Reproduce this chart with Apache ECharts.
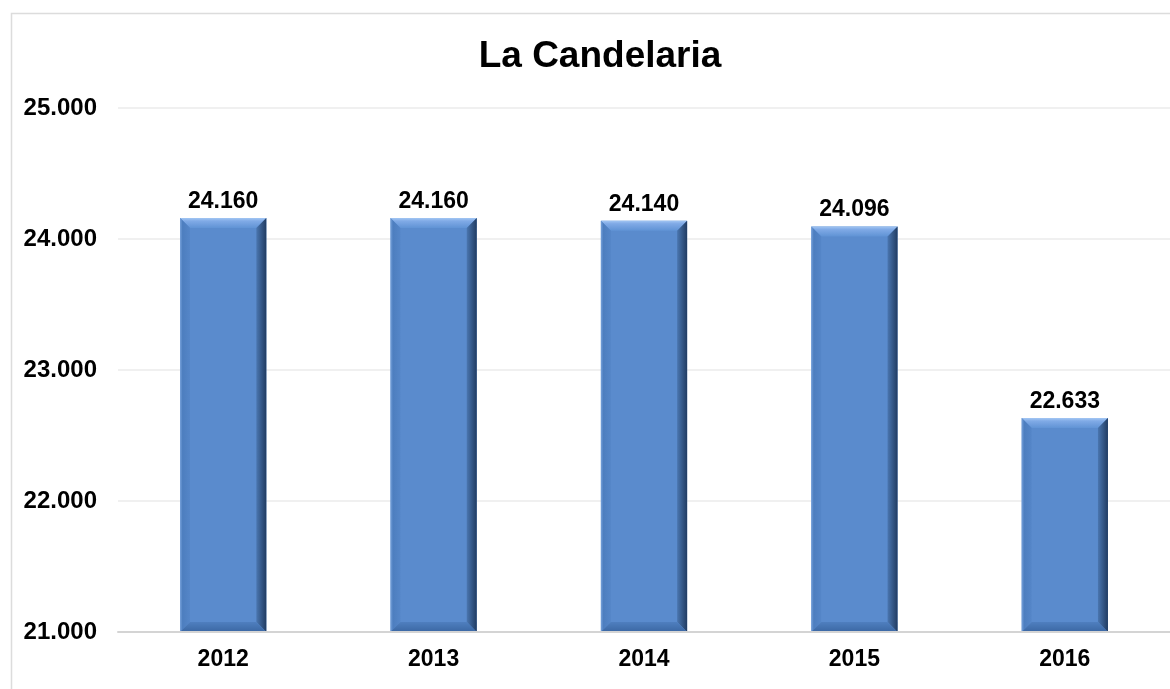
<!DOCTYPE html>
<html>
<head>
<meta charset="utf-8">
<script src="https://cdn.jsdelivr.net/npm/echarts@6/dist/echarts.min.js"></script>
<style>
html, body { margin: 0; padding: 0; background: #fff; }
#chart { width: 1170px; height: 689px; }
</style>
</head>
<body>
<div id="chart"></div>
<script>
// datos
let years = ['2012', '2013', '2014', '2015', '2016']
let poblacion = [24160, 24160, 24140, 24096, 22633]
let yTicks = [21000, 22000, 23000, 24000, 25000]

let FONT = '"Liberation Sans", Arial, sans-serif'
let BASE = yTicks[0]

// 24160 -> 24.160
function fmt(v) {
    return String(v).replace(/\B(?=(\d{3})+(?!\d))/g, '.')
}

// bisel de cada barra, sobre la barra normal
function bevel(params, api) {
    let top = api.coord([api.value(0), api.value(1)])
    let bot = api.coord([api.value(0), BASE])
    let w = api.size([1, 0])[0] * 0.41
    let x0 = top[0] - w / 2, x1 = top[0] + w / 2
    let y0 = top[1], y1 = bot[1]
    let b = 10
    return {
        type: 'group',
        children: [
            {
                type: 'polygon',
                shape: { points: [[x0, y0], [x1, y0], [x1 - b, y0 + b], [x0 + b, y0 + b]] },
                style: { fill: new echarts.graphic.LinearGradient(0, 0, 0, 1, [
                    { offset: 0, color: '#a2c6f3' },
                    { offset: 0.3, color: '#80aae6' },
                    { offset: 1, color: '#6093d5' }
                ]) }
            },
            {
                type: 'polygon',
                shape: { points: [[x1, y0], [x1, y1], [x1 - b, y1 - b], [x1 - b, y0 + b]] },
                style: { fill: new echarts.graphic.LinearGradient(0, 0, 1, 0, [
                    { offset: 0, color: '#4a76b0' },
                    { offset: 1, color: '#213c62' }
                ]) }
            },
            {
                type: 'polygon',
                shape: { points: [[x0, y0], [x0 + b, y0 + b], [x0 + b, y1 - b], [x0, y1]] },
                style: { fill: new echarts.graphic.LinearGradient(0, 0, 1, 0, [
                    { offset: 0, color: '#76a1da' },
                    { offset: 0.25, color: '#4d7ebf' },
                    { offset: 1, color: '#5586c8' }
                ]) }
            },
            {
                type: 'polygon',
                shape: { points: [[x0, y1], [x0 + b, y1 - b], [x1 - b, y1 - b], [x1, y1]] },
                style: { fill: new echarts.graphic.LinearGradient(0, 0, 0, 1, [
                    { offset: 0, color: '#4f7fbf' },
                    { offset: 1, color: '#3b67a3' }
                ]) }
            }
        ]
    }
}

let chart = echarts.init(document.getElementById('chart'))
chart.setOption({
    animation: false,
    title: {
        text: 'La Candelaria',
        left: 595,
        top: 33,
        textAlign: 'center',
        textStyle: { fontFamily: FONT, fontSize: 37, fontWeight: 'bold', color: '#000' }
    },
    graphic: [
        {
            type: 'rect',
            shape: { x: 11.5, y: 13.5, width: 1300, height: 800 },
            style: { fill: 'none', stroke: '#dcdcdc', lineWidth: 1.5 },
            silent: true
        }
    ],
    grid: { left: 118, right: -13, top: 108, bottom: 57 },
    xAxis: {
        type: 'category',
        data: years,
        axisTick: { show: false },
        axisLine: { lineStyle: { color: '#d4d4d4', width: 2 } },
        axisLabel: { margin: 16, fontFamily: FONT, fontSize: 23, fontWeight: 'bold', color: '#000' },
        z: 5
    },
    yAxis: {
        type: 'value',
        min: yTicks[0],
        max: yTicks[yTicks.length - 1],
        interval: 1000,
        axisLine: { show: false },
        axisTick: { show: false },
        splitLine: { lineStyle: { color: '#ebebeb', width: 1.5 } },
        axisLabel: { margin: 21, fontFamily: FONT, fontSize: 24, fontWeight: 'bold', color: '#000', formatter: fmt }
    },
    series: [
        {
            type: 'bar',
            data: poblacion,
            barWidth: '41%',
            itemStyle: { color: '#5a8bcd' },
            label: {
                show: true,
                position: 'top',
                distance: 5,
                fontFamily: FONT,
                fontSize: 23,
                fontWeight: 'bold',
                color: '#000',
                formatter: (p) => fmt(p.value)
            }
        },
        {
            type: 'custom',
            renderItem: bevel,
            data: poblacion.map((v, i) => [i, v]),
            z: 3,
            silent: true
        }
    ]
})
</script>
</body>
</html>
